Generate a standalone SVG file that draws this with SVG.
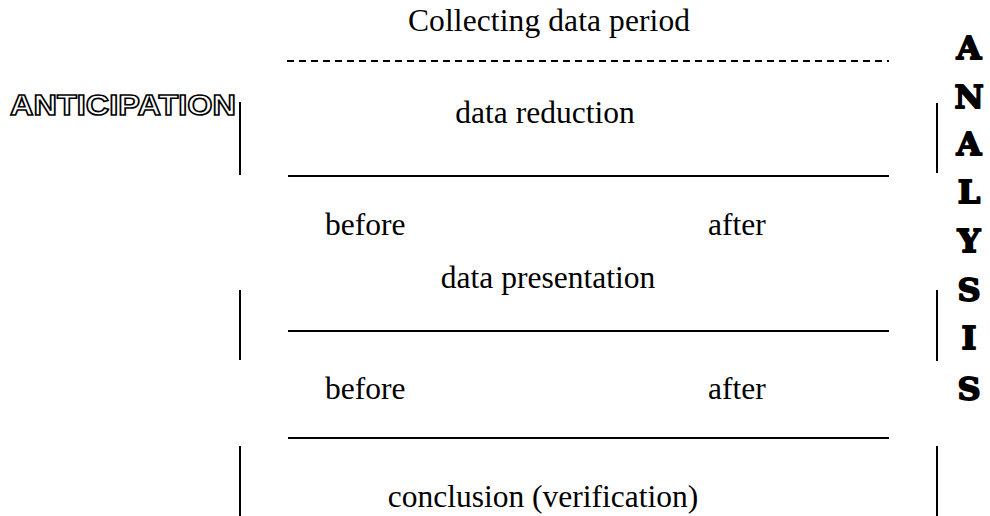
<svg xmlns="http://www.w3.org/2000/svg" width="990" height="516" viewBox="0 0 990 516">
<style>
.t{font-family:"Liberation Serif","Times New Roman",serif;font-size:31.5px;fill:#000}
.ln{stroke:#000;stroke-width:2;fill:none}
.ant{font-family:"Liberation Sans",Arial,sans-serif;font-weight:bold;font-size:30px;fill:#fff;stroke:#000;stroke-width:1.6}
.an{font-family:"DejaVu Serif",serif;font-weight:900;font-size:32px;fill:#000;stroke:#000;stroke-width:1.8;stroke-linejoin:round;text-anchor:middle}
</style>
<rect width="990" height="516" fill="#fff"/>
<g id="title"><text class="t" x="549" y="31" text-anchor="middle" textLength="282">Collecting data period</text></g>
<g id="anticipation"><text class="ant" x="10" y="115" textLength="226" lengthAdjust="spacingAndGlyphs">ANTICIPATION</text></g>
<g id="analysis">
<text class="an" x="969" y="59">A</text>
<text class="an" x="969" y="108">N</text>
<text class="an" x="969" y="155">A</text>
<text class="an" x="969" y="203">L</text>
<text class="an" x="969" y="252">Y</text>
<text class="an" x="969" y="301">S</text>
<text class="an" x="969" y="349">I</text>
<text class="an" x="969" y="400">S</text>
</g>
<g id="data-reduction"><text class="t" x="545" y="123" text-anchor="middle">data reduction</text></g>
<g id="before-after-1"><text class="t" x="325" y="235">before</text><text class="t" x="708" y="235">after</text></g>
<g id="data-presentation"><text class="t" x="548" y="288" text-anchor="middle">data presentation</text></g>
<g id="before-after-2"><text class="t" x="325" y="399">before</text><text class="t" x="708" y="399">after</text></g>
<g id="conclusion"><text class="t" x="543" y="507" text-anchor="middle">conclusion (verification)</text></g>
<g id="connectors">
<line class="ln" x1="287" y1="61" x2="889" y2="61" stroke-dasharray="7 5"/>
<line class="ln" x1="288" y1="176" x2="889" y2="176"/>
<line class="ln" x1="288" y1="331" x2="889" y2="331"/>
<line class="ln" x1="288" y1="438" x2="889" y2="438"/>
<line class="ln" x1="240" y1="102" x2="240" y2="175"/>
<line class="ln" x1="240" y1="290" x2="240" y2="360"/>
<line class="ln" x1="240" y1="446" x2="240" y2="516"/>
<line class="ln" x1="937" y1="103" x2="937" y2="173"/>
<line class="ln" x1="937" y1="290" x2="937" y2="361"/>
<line class="ln" x1="937" y1="446" x2="937" y2="516"/>
</g>
</svg>
